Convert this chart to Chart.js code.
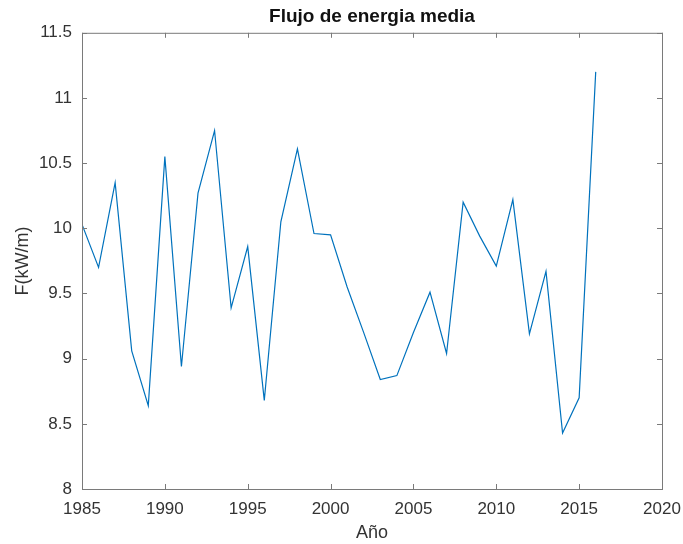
<!DOCTYPE html>
<html>
<head>
<meta charset="utf-8">
<script src="https://cdn.jsdelivr.net/npm/chart.js@4"></script>
<style>
  body { margin: 0; background: #fff; }
  #wrap { width: 683px; height: 544px; }
</style>
</head>
<body>
<div id="wrap"><canvas id="chart"></canvas></div>
<script>
// data
const years = [1985, 1986, 1987, 1988, 1989, 1990, 1991, 1992, 1993, 1994, 1995, 1996,
  1997, 1998, 1999, 2000, 2001, 2002, 2003, 2004, 2005, 2006, 2007, 2008, 2009, 2010,
  2011, 2012, 2013, 2014, 2015, 2016];
const flux = [10.03, 9.70, 10.35, 9.06, 8.64, 10.55, 8.94, 10.27, 10.75, 9.39, 9.86, 8.68,
  10.05, 10.61, 9.96, 9.95, 9.55, 9.20, 8.84, 8.87, 9.20, 9.51, 9.04, 10.20, 9.94, 9.71,
  10.22, 9.19, 9.67, 8.43, 8.70, 11.20];

const ctx = document.getElementById('chart').getContext('2d');
const axisColor = '#7a7a7a';
const textColor = '#333';
const font = 'Liberation Sans, Arial, sans-serif';

// matlab style box with ticks pointing inwards
const boxPlugin = {
  id: 'box',
  afterDraw(chart) {
    const c = chart.ctx;
    const a = chart.chartArea;
    const xs = chart.scales.x;
    const ys = chart.scales.y;
    const len = 5;
    c.save();
    c.strokeStyle = axisColor;
    c.lineWidth = 1;
    c.strokeRect(a.left + 0.5, a.top + 0.5, a.right - a.left, a.bottom - a.top);
    c.beginPath();
    xs.ticks.forEach(t => {
      const px = Math.round(xs.getPixelForValue(t.value)) + 0.5;
      c.moveTo(px, a.bottom); c.lineTo(px, a.bottom - len);
      c.moveTo(px, a.top); c.lineTo(px, a.top + len);
    });
    ys.ticks.forEach(t => {
      const py = Math.round(ys.getPixelForValue(t.value)) + 0.5;
      c.moveTo(a.left, py); c.lineTo(a.left + len, py);
      c.moveTo(a.right, py); c.lineTo(a.right - len, py);
    });
    c.stroke();
    c.restore();
  }
};

new Chart(ctx, {
  type: 'line',
  data: {
    datasets: [{
      label: 'F',
      data: years.map((y, i) => ({ x: y, y: flux[i] })),
      borderColor: '#0072bd',
      borderWidth: 1.2,
      pointRadius: 0,
      fill: false,
      tension: 0
    }]
  },
  options: {
    responsive: true,
    maintainAspectRatio: false,
    animation: false,
    layout: { padding: { left: 0, right: 0, top: 0, bottom: 0 } },
    plugins: {
      legend: { display: false },
      tooltip: { enabled: false },
      title: {
        display: true,
        fullSize: false,
        text: 'Flujo de energia media',
        color: '#111',
        font: { family: font, size: 19, weight: 'bold', lineHeight: 1.2 },
        padding: { top: 5, bottom: 5 }
      }
    },
    scales: {
      x: {
        type: 'linear',
        min: 1985,
        max: 2020,
        ticks: {
          stepSize: 5,
          color: textColor,
          font: { family: font, size: 17 },
          padding: 10,
          maxRotation: 0,
          callback: v => String(v)
        },
        grid: { display: false, drawTicks: false },
        border: { display: false },
        title: {
          display: true,
          text: 'Año',
          color: textColor,
          font: { family: font, size: 18 },
          padding: { top: 1, bottom: 0 }
        },
        afterFit: s => { s.height = 55; s.paddingLeft = 0; s.paddingRight = 21; }
      },
      y: {
        min: 8,
        max: 11.5,
        ticks: {
          stepSize: 0.5,
          color: textColor,
          font: { family: font, size: 17 },
          padding: 10,
          callback: v => String(v)
        },
        grid: { display: false, drawTicks: false },
        border: { display: false },
        title: {
          display: true,
          text: 'F(kW/m)',
          color: textColor,
          font: { family: font, size: 18 },
          padding: { top: 12, bottom: 0 }
        },
        afterFit: s => { s.width = 82; }
      }
    }
  },
  plugins: [boxPlugin]
});
</script>
</body>
</html>
